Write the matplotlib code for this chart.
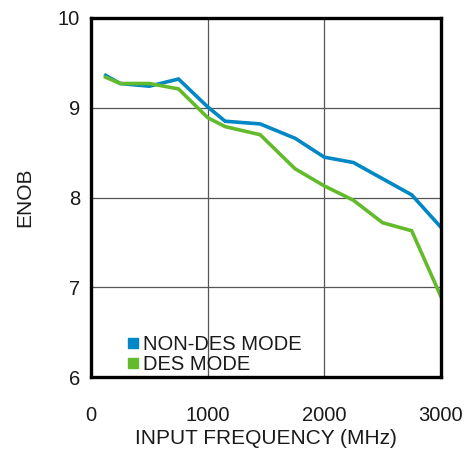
import matplotlib
matplotlib.use("Agg")
import matplotlib.pyplot as plt
from matplotlib.lines import Line2D

# input frequency (MHz) and ENOB
freq = [125, 250, 500, 750, 1000, 1150, 1450, 1750, 2000, 2250, 2500, 2750, 3000]
enob_non_des = [9.36, 9.27, 9.24, 9.32, 9.01, 8.85, 8.82, 8.66, 8.45, 8.39, 8.21, 8.03, 7.67]
enob_des = [9.34, 9.27, 9.27, 9.21, 8.89, 8.79, 8.70, 8.32, 8.13, 7.97, 7.72, 7.63, 6.90]

x_ticks = [0, 1000, 2000, 3000]
y_ticks = [6, 7, 8, 9, 10]

blue = "#0087c6"
green = "#63bb2b"
text_col = "#1a1a1a"

plt.rcParams["font.family"] = ["Liberation Sans", "DejaVu Sans"]

fig = plt.figure(figsize=(4.67, 4.49), dpi=100)
ax = fig.add_axes([0.195, 0.160, 0.749, 0.800])

ax.plot(freq, enob_non_des, color=blue, lw=2.6, solid_joinstyle="miter", zorder=3)
ax.plot(freq, enob_des, color=green, lw=2.6, solid_joinstyle="miter", zorder=4)

ax.set_xlim(0, 3000)
ax.set_ylim(6, 10)
ax.set_xticks(x_ticks)
ax.set_yticks(y_ticks)
ax.grid(True, color="#555555", lw=0.9)
ax.tick_params(length=0, labelsize=14.5, labelcolor=text_col)
ax.tick_params(axis="x", pad=21)
ax.tick_params(axis="y", pad=8)
for s in ax.spines.values():
    s.set_linewidth(2.4)
    s.set_color("black")
    s.set_zorder(5)

ax.set_xlabel("INPUT FREQUENCY (MHz)", fontsize=15, color=text_col, labelpad=3)
ax.set_ylabel("ENOB", fontsize=15, color=text_col, labelpad=17)

handles = [Line2D([], [], ls="none", marker="s", ms=7.5, color=blue),
           Line2D([], [], ls="none", marker="s", ms=7.5, color=green)]
ax.legend(handles, ["NON-DES MODE", "DES MODE"], loc="lower left",
          bbox_to_anchor=(0.063, -0.03), frameon=False, fontsize=14.5,
          handlelength=0.6, handletextpad=0.2, labelspacing=0.06,
          borderaxespad=0.3, labelcolor=text_col)

plt.savefig("out.png", dpi=100)
